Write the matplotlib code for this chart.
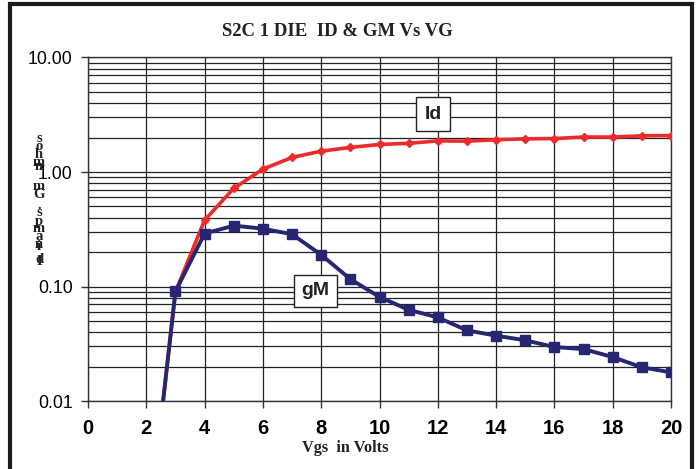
import matplotlib
matplotlib.use("Agg")
import matplotlib.pyplot as plt
from matplotlib.patches import Rectangle
from matplotlib.ticker import LogLocator, NullFormatter

# ---- data ----
vgs = [2, 3, 4, 5, 6, 7, 8, 9, 10, 11, 12, 13, 14, 15, 16, 17, 18, 19, 20]
id_amps = [0.0005, 0.09, 0.38, 0.72, 1.06, 1.34, 1.52, 1.64, 1.74, 1.78, 1.87,
           1.86, 1.91, 1.95, 1.96, 2.02, 2.02, 2.07, 2.08]
gm_mhos = [0.0005, 0.0905, 0.29, 0.34, 0.32, 0.286, 0.189, 0.116, 0.081, 0.0626,
           0.0537, 0.0414, 0.0372, 0.0339, 0.0296, 0.0284, 0.0242, 0.0197, 0.0178]
x_ticks = [0, 2, 4, 6, 8, 10, 12, 14, 16, 18, 20]
y_ticks = [0.01, 0.1, 1, 10]
y_tick_labels = ["0.01", "0.10", "1.00", "10.00"]
title = "S2C 1 DIE  ID & GM Vs VG"
xlabel = "Vgs  in Volts"
ylabel_chars = ["s", "o", "h", "m", "n", "m", "G", ".", "s", "p", "m", "a", "n", "i", "d", "I"]

W, H = 700, 469
fig = plt.figure(figsize=(7, 4.69), dpi=100)
ax = fig.add_axes([88 / W, 1 - 401 / H, (671 - 88) / W, (401 - 57.5) / H])

red = "#EE2A2A"
blue = "#262673"

ax.plot(vgs, id_amps, color=red, lw=2.6, marker="D", ms=4, zorder=3)
ax.plot(vgs, gm_mhos, color=blue, lw=2.8, marker="s", ms=7, zorder=4)

ax.set_yscale("log")
ax.set_xlim(0, 20)
ax.set_ylim(0.01, 10)
ax.set_xticks(x_ticks)
ax.set_xticklabels([str(t) for t in x_ticks], fontfamily="Liberation Sans",
                   fontweight="bold", fontsize=14.5)
ax.set_yticks(y_ticks)
ax.set_yticklabels(y_tick_labels, fontfamily="Liberation Sans", fontsize=12.7)
ax.yaxis.set_minor_locator(LogLocator(base=10, subs=range(2, 10)))
ax.yaxis.set_minor_formatter(NullFormatter())
ax.tick_params(axis="y", which="minor", length=0)
ax.tick_params(axis="both", which="major", length=5, width=1, color="#333333",
               direction="out", pad=6)
ax.tick_params(axis="x", pad=8)

ax.grid(True, which="major", axis="both", color="#222222", lw=0.9)
ax.grid(True, which="minor", axis="y", color="#222222", lw=0.9)
ax.set_axisbelow(True)
for s in ax.spines.values():
    s.set_color("#333333")
    s.set_linewidth(1.0)

# Series labels
ax.text(11.84, 3.2, "Id", fontfamily="Liberation Sans", fontweight="bold", fontsize=14,
        ha="center", va="center", color="#222222", zorder=5,
        bbox=dict(boxstyle="square,pad=0.42", fc="white", ec="#222222", lw=1))
ax.text(7.8, 0.092, "gM", fontfamily="Liberation Sans", fontweight="bold", fontsize=14,
        ha="center", va="center", color="#222222", zorder=5,
        bbox=dict(boxstyle="square,pad=0.38", fc="white", ec="#222222", lw=1))

# Title and x label
fig.text(337 / W, 1 - 32 / H, title, fontfamily="Liberation Serif", fontweight="bold",
         fontsize=13.5, ha="center", va="center", color="#222222")
fig.text(345 / W, 1 - 448 / H, xlabel, fontfamily="Liberation Serif", fontweight="bold",
         fontsize=11.7, ha="center", va="center", color="#222222")

# stacked (garbled) y label
ypos = [138, 146, 154, 162, 167, 186, 194, 205, 212, 221, 228, 236, 244, 247, 259, 261]
for ch, yp in zip(ylabel_chars, ypos):
    fig.text(39 / W, 1 - yp / H, ch, fontfamily="Liberation Serif", fontweight="bold",
             fontsize=10.5, ha="center", va="center", color="#222222")

# outer frame
fig.patches.append(Rectangle((9.5 / W, -0.05), (691.5 - 9.5) / W, 1.05 - 4.5 / H,
                             transform=fig.transFigure, fill=False, ec="#1a1a1a",
                             lw=3, clip_on=False))

fig.savefig("out.png", dpi=100)
